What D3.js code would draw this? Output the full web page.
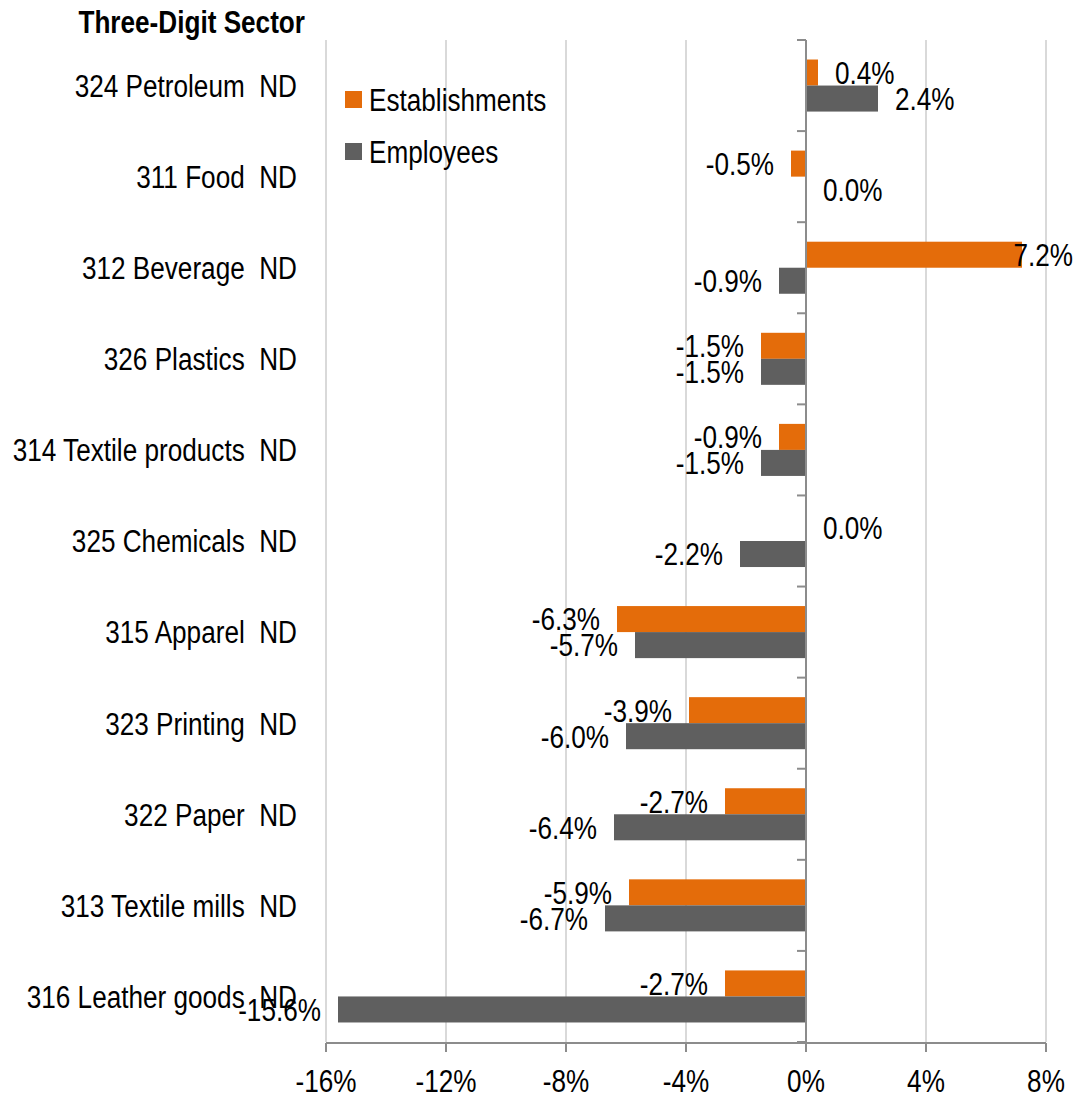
<!DOCTYPE html>
<html>
<head>
<meta charset="utf-8">
<script src="https://cdn.jsdelivr.net/npm/d3@7"></script>
<style>
  body { margin: 0; background: #fff; }
  svg text { font-family: "Liberation Sans", Arial, sans-serif; fill: #000; white-space: pre; }
</style>
</head>
<body>
<div id="chart"></div>
<script>
const sectors = [
  "324 Petroleum  ND", "311 Food  ND", "312 Beverage  ND", "326 Plastics  ND",
  "314 Textile products  ND", "325 Chemicals  ND", "315 Apparel  ND", "323 Printing  ND",
  "322 Paper  ND", "313 Textile mills  ND", "316 Leather goods  ND"
];
const establishments = [0.4, -0.5, 7.2, -1.5, -0.9, 0.0, -6.3, -3.9, -2.7, -5.9, -2.7];
const employees = [2.4, 0.0, -0.9, -1.5, -1.5, -2.2, -5.7, -6.0, -6.4, -6.7, -15.6];
const seriesNames = ["Establishments", "Employees"];
const xTicks = [-16, -12, -8, -4, 0, 4, 8];

const colors = { Establishments: "#E46C0A", Employees: "#5F5F5F" };
const fs = 31.5;     // font size
const narrow = 0.83; // squeeze Arial into an "Arial Narrow" look

const svgWidth = 1086, svgHeight = 1095;
const svg = d3.select("#chart").append("svg")
  .attr("width", svgWidth).attr("height", svgHeight);

// place a narrowed text: anchor x,y then scale horizontally
function place(sel, fx, fy) {
  sel.attr("x", 0).attr("y", 0)
    .attr("transform", (d, i) => `translate(${fx(d, i)},${fy(d, i)}) scale(${narrow},1)`);
}

const x = d3.scaleLinear().domain([-16, 8]).range([326, 1046]);
const y = d3.scaleBand().domain(sectors).range([40, 1042]);
const sub = d3.scaleBand().domain(seriesNames).range([0, y.bandwidth()]).paddingOuter(0.75);

const rows = sectors.map((s, i) => ({
  sector: s,
  values: [
    { key: "Establishments", value: establishments[i] },
    { key: "Employees", value: employees[i] }
  ]
}));

// gridlines
svg.append("g").selectAll("line").data(xTicks.filter(d => d !== 0)).join("line")
  .attr("x1", d => x(d)).attr("x2", d => x(d))
  .attr("y1", 40).attr("y2", 1042)
  .attr("stroke", "#D9D9D9").attr("stroke-width", 2);

// bars
const groups = svg.append("g").selectAll("g").data(rows).join("g")
  .attr("transform", d => `translate(0,${y(d.sector)})`);

groups.selectAll("rect").data(d => d.values).join("rect")
  .attr("x", d => x(Math.min(0, d.value)))
  .attr("y", d => sub(d.key))
  .attr("width", d => Math.abs(x(d.value) - x(0)))
  .attr("height", sub.bandwidth())
  .attr("fill", d => colors[d.key]);

// value labels
groups.selectAll("text").data(d => d.values).join("text")
  .attr("dy", "0.36em")
  .attr("font-size", fs)
  .text(d => d.value.toFixed(1) + "%")
  .each(function (d) {
    const w = this.getComputedTextLength() * narrow;
    let px;
    if (d.value >= 0) {
      px = x(d.value) + 17;
      if (px + w > 1073) px = 1073 - w;
    } else {
      px = x(d.value) - 17 - w;
    }
    d3.select(this).attr("x", 0).attr("y", 0)
      .attr("transform", `translate(${px},${sub(d.key) + sub.bandwidth() / 2}) scale(${narrow},1)`);
  });

// bottom axis
const xAxis = svg.append("g").attr("transform", "translate(0,1043)");
xAxis.append("line").attr("x1", x(-16)).attr("x2", x(8))
  .attr("stroke", "#8C8C8C").attr("stroke-width", 2);
xAxis.selectAll(".tick").data(xTicks).join("line")
  .attr("x1", d => x(d)).attr("x2", d => x(d))
  .attr("y1", 0).attr("y2", 9)
  .attr("stroke", "#8C8C8C").attr("stroke-width", 2);
xAxis.selectAll("text").data(xTicks).join("text")
  .attr("dy", "0.36em")
  .attr("text-anchor", "middle")
  .attr("font-size", fs)
  .text(d => d + "%")
  .call(place, d => x(d), () => 38);

// vertical axis at zero
const yAxis = svg.append("g");
yAxis.append("line").attr("x1", x(0)).attr("x2", x(0))
  .attr("y1", 40).attr("y2", 1052)
  .attr("stroke", "#8C8C8C").attr("stroke-width", 2);
const bounds = sectors.map(s => y(s)).concat([y.range()[1]]);
yAxis.selectAll(".tk").data(bounds).join("line")
  .attr("x1", x(0) - 9).attr("x2", x(0))
  .attr("y1", d => d).attr("y2", d => d)
  .attr("stroke", "#8C8C8C").attr("stroke-width", 2);

// category labels
svg.append("g").selectAll("text").data(sectors).join("text")
  .attr("dy", "0.36em")
  .attr("text-anchor", "end")
  .attr("font-size", fs)
  .text(d => d)
  .call(place, () => 297, d => y(d) + y.bandwidth() / 2);

// axis title
svg.append("text")
  .attr("dy", "0.36em")
  .attr("text-anchor", "end")
  .attr("font-size", fs)
  .attr("font-weight", "bold")
  .text("Three-Digit Sector")
  .call(place, () => 305, () => 22);

// legend
const legend = svg.append("g").selectAll("g").data(seriesNames).join("g")
  .attr("transform", (d, i) => `translate(345,${91 + i * 52})`);
legend.append("rect").attr("width", 17).attr("height", 17)
  .attr("fill", d => colors[d]);
legend.append("text")
  .attr("dy", "0.36em")
  .attr("font-size", fs)
  .text(d => d)
  .call(place, () => 24, () => 9);
</script>
</body>
</html>
